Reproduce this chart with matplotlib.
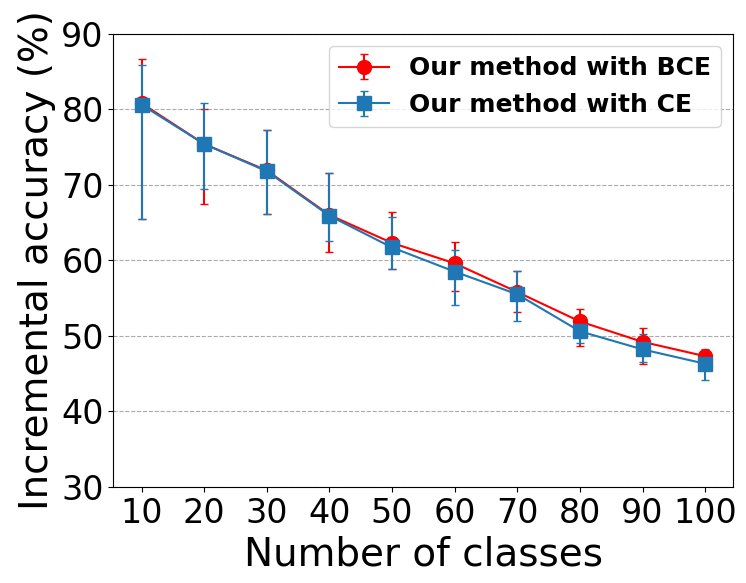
import numpy as np
import matplotlib
matplotlib.use("Agg")
import matplotlib.pyplot as plt

# Data
classes = [10, 20, 30, 40, 50, 60, 70, 80, 90, 100]

bce_mean = [80.8, 75.4, 71.9, 66.0, 62.3, 59.6, 55.8, 51.9, 49.2, 47.3]
bce_low = [65.5, 67.5, 66.2, 61.1, 58.8, 55.9, 53.1, 48.6, 46.2, 46.6]
bce_high = [86.6, 80.0, 77.2, 71.5, 66.4, 62.4, 58.6, 53.5, 51.1, 48.1]

ce_mean = [80.6, 75.4, 71.8, 65.9, 61.7, 58.5, 55.5, 50.6, 48.2, 46.3]
ce_low = [65.5, 69.5, 66.1, 62.5, 58.8, 54.1, 51.9, 49.1, 46.5, 44.1]
ce_high = [85.9, 80.8, 77.2, 71.5, 65.8, 61.3, 58.6, 51.2, 50.3, 48.3]

bce_err = [np.array(bce_mean) - np.array(bce_low), np.array(bce_high) - np.array(bce_mean)]
ce_err = [np.array(ce_mean) - np.array(ce_low), np.array(ce_high) - np.array(ce_mean)]

fig, ax = plt.subplots(figsize=(7.46, 5.83), dpi=100)
ax.errorbar(classes, bce_mean, yerr=bce_err, color="red", marker="o", markersize=10,
            capsize=3, linewidth=1.5, label="Our method with BCE")
ax.errorbar(classes, ce_mean, yerr=ce_err, color="#1f77b4", marker="s", markersize=10,
            capsize=3, linewidth=1.5, label="Our method with CE")

ax.set_ylim(30, 90)
ax.set_xticks(classes)
ax.tick_params(labelsize=24)
ax.set_xlabel("Number of classes", fontsize=28)
ax.set_ylabel("Incremental accuracy (%)", fontsize=28)
ax.grid(axis="y", linestyle="--", color="#aaaaaa")
ax.legend(prop={"size": 18, "weight": "bold"}, loc="upper right")

fig.subplots_adjust(left=0.152, right=0.983, top=0.942, bottom=0.165)
fig.savefig("out.png", dpi=100)
